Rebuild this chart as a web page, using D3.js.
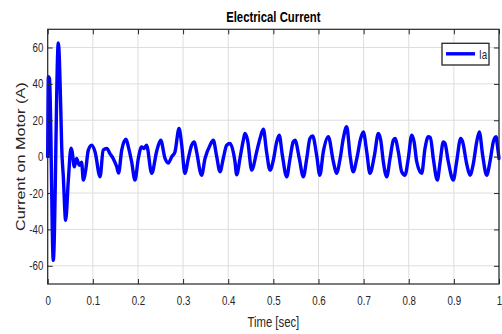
<!DOCTYPE html>
<html><head><meta charset="utf-8">
<script src="https://cdn.jsdelivr.net/npm/d3@7"></script>
<style>html,body{margin:0;padding:0;background:#fff;}svg{display:block;}</style>
</head><body><svg id="c" width="502" height="334"></svg>
<script>
const title = "Electrical Current";
const xLabel = "Time [sec]";
const yLabel = "Current on Motor (A)";
const seriesName = "Ia";
const xTicks = [0,0.1,0.2,0.3,0.4,0.5,0.6,0.7,0.8,0.9,1];
const xTickLabels = ["0","0.1","0.2","0.3","0.4","0.5","0.6","0.7","0.8","0.9","1"];
const yTicks = [-60,-40,-20,0,20,40,60];
const yTickLabels = ["-60","-40","-20","0","20","40","60"];
const xDomain = [0,1];
const yDomain = [-70,70];

const time = [
 0,0.0015,0.004,0.0124,0.0235,0.0288,0.031,0.0346,0.0398,0.0457,0.0516,0.054,0.059,0.064,0.070,0.075,0.079,0.084,0.090,0.0975,0.105,
 0.116,0.123,0.131,0.138,0.145,0.153,0.157,0.164,0.1735,0.1787,0.186,0.1934,0.2008,0.208,0.213,0.219,0.2305,0.2415,0.2504,0.26,
 0.267,0.275,0.282,0.291,0.297,0.304,0.3116,0.319,0.325,0.330,0.341,0.3486,0.3597,0.367,0.374,0.3818,0.389,0.3966,0.404,0.415,0.4188,
 0.426,0.4334,0.437,0.443,0.452,0.463,0.4704,0.4778,0.485,0.4926,0.5,0.5074,0.513,0.52,0.5296,0.537,0.544,0.548,0.5575,0.5664,
 0.574,0.581,0.587,0.596,0.603,0.6107,0.6218,0.633,0.640,0.648,0.655,0.6625,0.67,0.677,0.685,0.6935,0.6993,0.707,0.714,0.724,
 0.7326,0.738,0.7437,0.7512,0.7585,0.7658,0.7696,0.777,0.7844,0.7917,0.799,0.8066,0.812,0.8177,0.8287,0.836,0.8433,0.848,0.8544,
 0.8633,0.869,0.8766,0.880,0.8877,0.8988,0.906,0.9151,0.919,0.9284,0.9358,0.943,0.9506,0.9564,0.9638,0.9727,0.98,0.9874,0.9934,0.997,1.0
];
const current = [
 0,44,43,-57,62.5,28,5.4,-11,-35,-13,4.7,3,-5.6,-1,-4.7,-3,-12.9,-7.7,3.6,6.3,2.6,
 -11.1,3.6,4.5,1.7,-1,-5.6,-9,3.6,9.6,5.4,-2.8,-12.9,-1,5.4,4.5,6.3,-9.2,3,9,-1,
 -3.5,0,2.6,15.5,6.3,-9.2,-1,6.3,8.1,2.6,-10.2,-1,6.3,9,0.7,-8.3,-1,6.3,7.2,-2.8,-10,
 -1,9,12.7,9,-7.4,2.6,10,15.1,2.6,-7.4,-1.9,8.1,11.8,0.7,-11.1,-1,8.1,9,-1,-11.1,
 -1,10,11.4,0.7,-10.2,2.6,10.9,-2.8,-9.2,-1,10,16.4,0.7,-8.3,-1,10,13.6,2.6,-9.2,0.7,
 12.7,9,-2.8,-11.1,-1,9,10,2.6,-8.3,-10.2,-1,11.8,8,-2.8,-9.2,4.5,10.9,10.5,-1,
 -12.9,-4,8.1,7.5,-2.8,-12.9,-3,10,8.5,-4,-10.2,-4,8.1,13.6,0.7,-10.2,-2.8,8.1,10.9,5,-1
];

const W = 502, H = 334;
const m = {left:47.7, right:499, top:29.3, bottom:284};
const SQ = 0.81;
const ink = "#262626";
const svg = d3.select("#c");
svg.append("rect").attr("width",W).attr("height",H).attr("fill","#fff");

const x = d3.scaleLinear().domain(xDomain).range([m.left, m.right]);
const y = d3.scaleLinear().domain(yDomain).range([m.bottom, m.top]);

// grid
const g = svg.append("g");
g.selectAll("line.gx").data(xTicks).join("line")
 .attr("x1",d=>x(d)).attr("x2",d=>x(d)).attr("y1",m.top).attr("y2",m.bottom)
 .attr("stroke","#dedede").attr("stroke-width",1);
g.selectAll("line.gy").data(yTicks).join("line")
 .attr("y1",d=>y(d)).attr("y2",d=>y(d)).attr("x1",m.left).attr("x2",m.right)
 .attr("stroke","#dedede").attr("stroke-width",1);

// data line
const pts = time.map((t,i)=>[t,current[i]]);
svg.append("path").datum(pts)
 .attr("fill","none").attr("stroke","#0000ff").attr("stroke-width",3.4)
 .attr("stroke-linejoin","round").attr("stroke-linecap","round")
 .attr("d", d3.line().x(d=>x(d[0])).y(d=>y(d[1])).curve(d3.curveMonotoneX));

// axes
function styleAxis(sel){
  sel.select(".domain").remove();
  sel.selectAll(".tick line").attr("stroke",ink).attr("stroke-width",1);
}
const axB = svg.append("g").attr("transform",`translate(0,${m.bottom})`)
 .call(d3.axisBottom(x).tickValues(xTicks).tickSizeInner(-5).tickSizeOuter(0).tickFormat((d,i)=>xTickLabels[i]));
styleAxis(axB);
axB.selectAll("text").attr("y",0).attr("dy",0)
 .attr("transform","translate(0,21) scale("+SQ+",1)")
 .attr("font-family","Liberation Sans, Arial, sans-serif").attr("font-size",12).attr("fill",ink);
const axT = svg.append("g").attr("transform",`translate(0,${m.top})`)
 .call(d3.axisTop(x).tickValues(xTicks).tickSizeInner(-5).tickSizeOuter(0).tickFormat(""));
styleAxis(axT);
const axL = svg.append("g").attr("transform",`translate(${m.left},0)`)
 .call(d3.axisLeft(y).tickValues(yTicks).tickSizeInner(-5).tickSizeOuter(0).tickFormat((d,i)=>yTickLabels[i]));
styleAxis(axL);
axL.selectAll("text").attr("x",0).attr("dy","0.34em")
 .attr("transform","translate(-4.4,0) scale("+SQ+",1)")
 .attr("font-family","Liberation Sans, Arial, sans-serif").attr("font-size",12).attr("fill",ink);
const axR = svg.append("g").attr("transform",`translate(${m.right},0)`)
 .call(d3.axisRight(y).tickValues(yTicks).tickSizeInner(-5).tickSizeOuter(0).tickFormat(""));
styleAxis(axR);

// box
svg.append("rect").attr("x",m.left).attr("y",m.top)
 .attr("width",m.right-m.left).attr("height",m.bottom-m.top)
 .attr("fill","none").attr("stroke",ink).attr("stroke-width",1.2);

// title and labels
const cx = (m.left+m.right)/2;
svg.append("text").text(title)
 .attr("transform",`translate(${cx},21.5) scale(${SQ},1)`)
 .attr("text-anchor","middle").attr("font-family","Liberation Sans, Arial, sans-serif")
 .attr("font-weight","bold").attr("font-size",14).attr("fill","#000");
svg.append("text").text(xLabel)
 .attr("transform",`translate(${cx},326.5) scale(${SQ},1)`)
 .attr("text-anchor","middle").attr("font-family","Liberation Sans, Arial, sans-serif")
 .attr("font-size",14).attr("fill",ink);
svg.append("text").text(yLabel)
 .attr("transform",`translate(24.5,${(m.top+m.bottom)/2}) rotate(-90) scale(1,${SQ})`)
 .attr("text-anchor","middle").attr("font-family","Liberation Sans, Arial, sans-serif")
 .attr("font-size",16.2).attr("fill",ink);

// legend
const lg = svg.append("g");
lg.append("rect").attr("x",442).attr("y",43.3).attr("width",47).attr("height",21.7)
 .attr("fill","#fff").attr("stroke",ink).attr("stroke-width",1.3);
lg.append("line").attr("x1",446).attr("x2",475).attr("y1",53.8).attr("y2",53.8)
 .attr("stroke","#0000ff").attr("stroke-width",3.4);
lg.append("text").text(seriesName)
 .attr("transform","translate(479,58.5) scale("+SQ+",1)")
 .attr("font-family","Liberation Sans, Arial, sans-serif").attr("font-size",12).attr("fill",ink);
</script></body></html>
